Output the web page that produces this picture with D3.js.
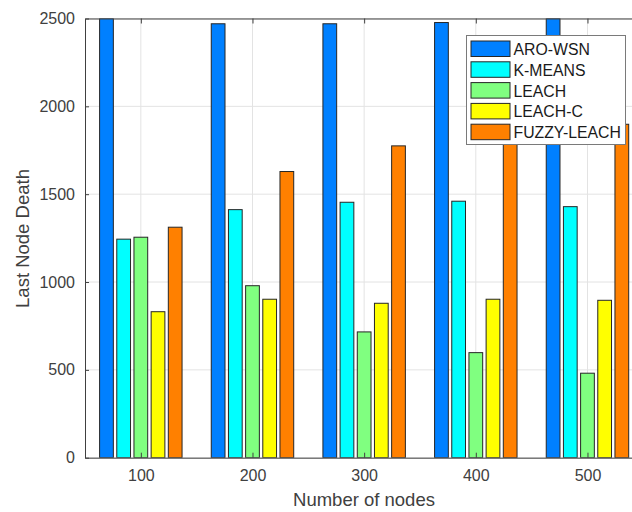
<!DOCTYPE html>
<html>
<head>
<meta charset="utf-8">
<script src="https://cdn.jsdelivr.net/npm/d3@7"></script>
<style>
  body { margin: 0; background: #fff; }
  svg text { font-family: "Liberation Sans", Arial, sans-serif; }
</style>
</head>
<body>
<svg id="chart" width="632" height="512"></svg>
<script>
const categories = [100, 200, 300, 400, 500];
const seriesNames = ["ARO-WSN", "K-MEANS", "LEACH", "LEACH-C", "FUZZY-LEACH"];
const aroWsn     = [2500, 2470, 2470, 2477, 2500];
const kMeans     = [1244, 1412, 1454, 1460, 1429];
const leach      = [1255, 979, 716, 598, 481];
const leachC     = [831, 902, 879, 902, 896];
const fuzzyLeach = [1312, 1629, 1775, 1830, 1898];
const seriesColors = ["#0080ff", "#00ffff", "#80ff80", "#ffff00", "#ff8000"];
const yTicks = [0, 500, 1000, 1500, 2000, 2500];
const xLabel = "Number of nodes";
const yLabel = "Last Node Death";

const seriesValues = [aroWsn, kMeans, leach, leachC, fuzzyLeach];

const svg = d3.select("#chart");
svg.append("rect").attr("width", 632).attr("height", 512).attr("fill", "#fff");

const pLeft = 85, pTop = 18.5, pBottom = 457.7, pRight = 643.3;
const x = d3.scaleLinear().domain([50, 550]).range([pLeft, pRight]);
const y = d3.scaleLinear().domain([0, 2500]).range([pBottom, pTop]);

const axisColor = "#404040";
const gridColor = "#e3e3e3";

// grid
const g = svg.append("g");
g.selectAll(".hg").data(yTicks).join("line")
  .attr("x1", pLeft).attr("x2", 632)
  .attr("y1", d => y(d)).attr("y2", d => y(d))
  .attr("stroke", gridColor).attr("stroke-width", 1);
g.selectAll(".vg").data(categories).join("line")
  .attr("x1", d => x(d)).attr("x2", d => x(d))
  .attr("y1", pTop).attr("y2", pBottom)
  .attr("stroke", gridColor).attr("stroke-width", 1);

// bars
svg.append("defs").append("clipPath").attr("id", "clip")
  .append("rect").attr("x", pLeft).attr("y", pTop).attr("width", pRight - pLeft).attr("height", pBottom - pTop);

const nS = seriesNames.length;
const groupW = Math.min(0.8, nS / (nS + 1.5)) * 100;
const slot = groupW / nS;
const barW = slot * 0.8;

const barsG = svg.append("g").attr("clip-path", "url(#clip)");
seriesValues.forEach((vals, si) => {
  barsG.selectAll(".b" + si).data(categories).join("rect")
    .attr("x", (c) => x(c - groupW / 2 + slot * si + (slot - barW) / 2))
    .attr("width", x(barW) - x(0))
    .attr("y", (c, i) => y(vals[i]))
    .attr("height", (c, i) => y(0) - y(vals[i]))
    .attr("fill", seriesColors[si])
    .attr("stroke", "#262626").attr("stroke-width", 1);
});

// axes
const fmt = d3.format("d");
const xAxis = d3.axisBottom(x).tickValues(categories).tickFormat(fmt).tickSize(-5).tickPadding(12).tickSizeOuter(0);
const xg = svg.append("g").attr("transform", `translate(0,${pBottom})`).call(xAxis);
xg.select(".domain").attr("stroke", axisColor);
xg.selectAll(".tick line").attr("stroke", axisColor);
xg.selectAll("text").attr("fill", "#404040").attr("font-size", 16).attr("font-family", "Liberation Sans, Arial, sans-serif");

const yAxis = d3.axisLeft(y).tickValues(yTicks).tickFormat(fmt).tickSize(-4).tickPadding(10).tickSizeOuter(0);
const yg = svg.append("g").attr("transform", `translate(${pLeft},0)`).call(yAxis);
yg.select(".domain").attr("stroke", axisColor);
yg.selectAll(".tick line").attr("stroke", axisColor);
yg.selectAll("text").attr("fill", "#404040").attr("font-size", 16).attr("font-family", "Liberation Sans, Arial, sans-serif");

// top axis line with ticks
const xTop = d3.axisTop(x).tickValues(categories).tickSize(-5).tickFormat("").tickSizeOuter(0);
const tg = svg.append("g").attr("transform", `translate(0,${pTop})`).call(xTop);
tg.select(".domain").attr("stroke", axisColor);
tg.selectAll(".tick line").attr("stroke", axisColor);

// labels
svg.append("text").attr("x", 364).attr("y", 506).attr("text-anchor", "middle")
  .attr("font-size", 18.5).attr("fill", "#404040").text(xLabel);
svg.append("text").attr("transform", "translate(29,238.5) rotate(-90)").attr("text-anchor", "middle")
  .attr("font-size", 18.5).attr("fill", "#404040").text(yLabel);

// legend
const lg = svg.append("g").attr("transform", "translate(466.5,35.5)");
lg.append("rect").attr("width", 159).attr("height", 109)
  .attr("fill", "#fff").attr("stroke", "#7a7a7a").attr("stroke-width", 1);
seriesNames.forEach((name, i) => {
  const row = lg.append("g").attr("transform", `translate(4.5,${5.5 + i * 20.8})`);
  row.append("rect").attr("width", 39).attr("height", 15.5)
    .attr("fill", seriesColors[i]).attr("stroke", "#262626").attr("stroke-width", 1);
  row.append("text").attr("x", 42.5).attr("y", 14).attr("font-size", 15.8).attr("fill", "#1a1a1a").text(name);
});
</script>
</body>
</html>
